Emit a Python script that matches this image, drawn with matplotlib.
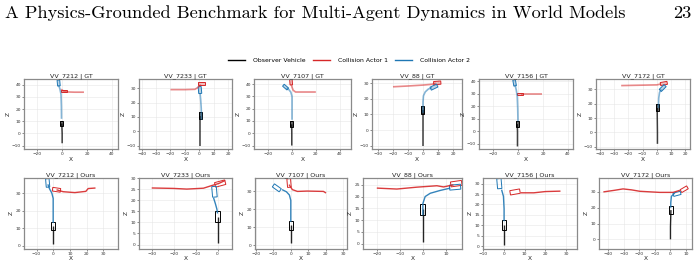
import matplotlib
matplotlib.use("Agg")
import matplotlib.pyplot as plt
import numpy as np
from matplotlib.patches import Polygon
from matplotlib.lines import Line2D
from matplotlib.ticker import MultipleLocator

# ---------------- data ----------------
titles = ["VV_7212 | GT", "VV_7233 | GT", "VV_7107 | GT", "VV_88 | GT", "VV_7156 | GT", "VV_7172 | GT",
          "VV_7212 | Ours", "VV_7233 | Ours", "VV_7107 | Ours", "VV_88 | Ours", "VV_7156 | Ours", "VV_7172 | Ours"]
legend_labels = ["Observer Vehicle", "Collision Actor 1", "Collision Actor 2"]

# trajectories (x, z) ; boxes: (cx, cz, heading_deg) for ego, actor1, actor2
p1_ego = [(0.0, -8.0), (0.0, 0.0), (-0.3, 8.2)]
p1_act1 = [(17.5, 33.8), (10.0, 33.8), (4.0, 34.0), (1.0, 34.8), (-0.8, 36.2)]
p1_act2 = [(-0.5, 12.0), (-0.6, 22.0), (-0.9, 32.0), (-1.8, 36.5), (-2.8, 39.5)]
p1_boxes = [(-0.3, 8.2, 90), (1.8, 34.6, 180), (-2.8, 41.3, 95)]

p2_ego = [(0.8, -10.0), (0.8, 0.0), (0.8, 10.8)]
p2_act1 = [(-20.0, 29.0), (-10.0, 29.0), (-3.0, 29.2), (-0.8, 30.6), (1.0, 32.5)]
p2_act2 = [(1.6, 8.0), (1.4, 16.0), (1.0, 22.0), (0.6, 26.5)]
p2_boxes = [(0.8, 10.8, 90), (1.4, 33.6, 0), (0.5, 28.7, 95)]

p3_ego = [(-0.2, -10.0), (-0.2, 0.0), (-0.3, 7.3)]
p3_act1 = [(20.0, 33.6), (10.0, 33.6), (3.0, 33.6), (1.0, 35.0), (0.0, 37.5), (-0.5, 39.5)]
p3_act2 = [(0.0, 11.0), (0.0, 22.0), (0.0, 30.0), (-1.0, 33.5), (-3.0, 36.0), (-4.5, 37.0)]
p3_boxes = [(-0.3, 7.3, 90), (-0.8, 41.8, 95), (-5.4, 37.6, 140)]

p4_ego = [(-0.2, -10.0), (-0.2, 0.0), (-0.2, 12.9)]
p4_act1 = [(-20.0, 27.8), (-10.0, 28.3), (0.0, 28.9), (6.0, 29.4), (8.5, 30.0)]
p4_act2 = [(0.0, 11.0), (0.0, 18.0), (0.3, 22.0), (1.5, 24.5), (3.5, 26.3), (6.0, 27.3)]
p4_boxes = [(-0.2, 12.9, 90), (9.5, 30.3, 5), (7.3, 27.6, 25)]

p5_ego = [(-0.6, -12.0), (-0.6, 0.0), (-0.8, 5.8)]
p5_act1 = [(19.5, 29.8), (12.0, 29.8), (5.0, 29.8), (2.5, 29.8)]
p5_act2 = [(-0.2, 8.0), (-0.4, 18.0), (-0.8, 28.0), (-1.6, 33.0), (-2.6, 37.0)]
p5_boxes = [(-0.8, 5.8, 90), (1.5, 29.8, 180), (-2.9, 38.5, 100)]

p6_ego = [(0.5, -8.0), (0.5, 0.0), (0.3, 17.1)]
p6_act1 = [(-25.0, 32.7), (-10.0, 33.0), (0.0, 33.2), (3.0, 33.8)]
p6_act2 = [(1.2, 17.0), (1.4, 24.0), (2.0, 28.0), (3.2, 30.0)]
p6_boxes = [(0.3, 17.1, 90), (5.0, 34.2, 10), (4.2, 31.0, 45)]

p7_ego = [(0.0, 1.0), (0.0, 6.0), (0.0, 11.4)]
p7_act1 = [(25.4, 32.9), (21.0, 32.6), (19.6, 31.0), (13.0, 30.3), (6.0, 30.8), (2.0, 31.9)]
p7_act2 = [(0.0, 13.0), (0.0, 20.0), (0.0, 27.0), (-0.8, 30.0), (-2.2, 32.5), (-3.2, 35.0)]
p7_boxes = [(0.0, 11.4, 90), (2.0, 31.9, -8), (-3.3, 35.8, 95)]

p8_ego = [(0.0, 0.5), (0.0, 6.0), (0.0, 12.5)]
p8_act1 = [(-30.0, 25.5), (-20.0, 25.3), (-14.0, 25.0), (-6.4, 25.4), (-2.6, 26.6), (0.5, 27.5), (3.5, 28.9)]
p8_act2 = [(0.0, 14.0), (-0.3, 16.0), (-1.0, 18.5), (-1.8, 21.0)]
p8_boxes = [(0.0, 12.5, 90), (1.2, 27.5, 15), (-1.4, 23.8, 95)]

p9_ego = [(0.0, 1.0), (0.0, 6.0), (0.0, 11.0)]
p9_act1 = [(20.2, 29.1), (18.7, 30.0), (9.4, 30.2), (3.8, 30.0), (0.9, 31.0), (-1.0, 33.8)]
p9_act2 = [(0.0, 13.0), (0.0, 20.0), (0.0, 25.0), (-0.8, 28.0), (-2.5, 29.8), (-5.0, 31.0)]
p9_boxes = [(0.0, 11.0, 90), (-1.0, 34.7, 95), (-8.0, 32.0, 145)]

p10_ego = [(0.0, 0.5), (0.0, 7.0), (0.0, 14.5)]
p10_act1 = [(-20.0, 23.6), (-11.3, 23.2), (-2.6, 24.0), (6.1, 24.6), (9.0, 24.1), (13.3, 25.0)]
p10_act2 = [(0.0, 12.0), (0.0, 17.0), (1.0, 20.0), (3.2, 21.4), (7.5, 22.6), (11.9, 23.6)]
p10_boxes = [(0.0, 14.5, 90), (14.5, 25.5, 8), (14.0, 24.0, 5)]

p11_ego = [(0.0, 0.5), (0.0, 5.0), (0.0, 10.3)]
p11_act1 = [(27.3, 26.4), (20.0, 26.2), (14.4, 25.6), (8.0, 25.6)]
p11_act2 = [(0.0, 12.0), (0.0, 18.0), (-0.3, 23.9), (-1.2, 27.1)]
p11_boxes = [(0.0, 10.3, 90), (5.3, 26.0, 10), (-2.3, 30.0, 95)]

p12_ego = [(0.0, 0.0), (0.0, 8.0), (0.3, 18.5)]
p12_act1 = [(-43.0, 30.0), (-36.0, 31.0), (-30.4, 31.9), (-25.0, 31.3), (-19.7, 30.4), (-6.9, 29.7), (1.7, 29.7), (6.0, 31.0)]
p12_act2 = [(0.2, 20.0), (0.2, 23.1), (0.6, 27.2), (2.8, 29.4)]
p12_boxes = [(0.3, 18.5, 90), (8.8, 31.7, 30), (4.2, 28.8, 15)]

panels = [
    (p1_ego, p1_act1, p1_act2, p1_boxes), (p2_ego, p2_act1, p2_act2, p2_boxes),
    (p3_ego, p3_act1, p3_act2, p3_boxes), (p4_ego, p4_act1, p4_act2, p4_boxes),
    (p5_ego, p5_act1, p5_act2, p5_boxes), (p6_ego, p6_act1, p6_act2, p6_boxes),
    (p7_ego, p7_act1, p7_act2, p7_boxes), (p8_ego, p8_act1, p8_act2, p8_boxes),
    (p9_ego, p9_act1, p9_act2, p9_boxes), (p10_ego, p10_act1, p10_act2, p10_boxes),
    (p11_ego, p11_act1, p11_act2, p11_boxes), (p12_ego, p12_act1, p12_act2, p12_boxes),
]

# axis ranges and tick steps
xlims = [(-30.6, 44.8), (-41.9, 22.8), (-31.9, 49.5), (-34, 26), (-31.5, 44), (-42.7, 23.4),
         (-17.5, 38.9), (-35.8, 6.6), (-20.5, 32.2), (-26, 17), (-10.2, 35.3), (-45.8, 13.8)]
ylims = [(-12.7, 44.6), (-12.4, 36.4), (-12.8, 44.2), (-12.2, 32.8), (-14, 41.6), (-11.6, 37.3),
         (-1.5, 38.6), (-1.8, 30), (-1.9, 37.5), (-2.1, 27.9), (-1.1, 32.7), (-5.8, 38.8)]
xsteps = [20, 10, 20, 10, 20, 10, 10, 10, 10, 10, 10, 10]
ysteps = [10, 10, 10, 10, 10, 10, 10, 5, 10, 5, 5, 10]

# ---------------- style / layout ----------------
W, H = 700, 269
EGO_C, A1_C, A2_C = "black", "#d62728", "#1f77b4"
colors = [EGO_C, A1_C, A2_C]
box_px = [(24, 118), (139, 232), (254, 351), (372, 462), (479, 573), (596, 690),
          (24, 118), (139, 232), (255, 347), (363, 462), (483, 577), (599, 692)]
row_px = [(79, 149), (178, 248.5)]
VEH_L, VEH_W = 4.8, 2.1

fig = plt.figure(figsize=(W / 100, H / 100), dpi=100)

fig.text(5 / W, 1 - 13 / H, "A Physics-Grounded Benchmark for Multi-Agent Dynamics in World Models",
         family=["cmr10", "DejaVu Serif"], fontsize=13.2, va="center", ha="left")
fig.text(691 / W, 1 - 13 / H, "23", family=["cmr10", "DejaVu Serif"], fontsize=13.2,
         va="center", ha="right")


def vehicle_poly(cx, cz, hdg):
    t = np.deg2rad(hdg)
    d = np.array([np.cos(t), np.sin(t)])
    n = np.array([-np.sin(t), np.cos(t)])
    c = np.array([cx, cz])
    pts = [c + d * VEH_L / 2 + n * VEH_W / 2, c - d * VEH_L / 2 + n * VEH_W / 2,
           c - d * VEH_L / 2 - n * VEH_W / 2, c + d * VEH_L / 2 - n * VEH_W / 2]
    return np.array(pts)


for i, (ego, a1, a2, boxes) in enumerate(panels):
    gt = i < 6
    x0, x1 = box_px[i]
    y0, y1 = row_px[0] if gt else row_px[1]
    ax = fig.add_axes([x0 / W, 1 - y1 / H, (x1 - x0) / W, (y1 - y0) / H])
    ax.set_xlim(*xlims[i])
    ax.set_ylim(*ylims[i])
    ax.grid(True, color="#e6e6e6", lw=0.4)
    ax.set_axisbelow(True)
    for s in ax.spines.values():
        s.set_color("#8a8a8a")
        s.set_linewidth(0.9)
    ax.xaxis.set_major_locator(MultipleLocator(xsteps[i]))
    ax.yaxis.set_major_locator(MultipleLocator(ysteps[i]))
    ax.tick_params(labelsize=3.2, length=1.2, width=0.4, pad=1, colors="#333333")
    ax.set_title(titles[i], fontsize=4.6, pad=1.5, color="#222222")
    ax.set_xlabel("X", fontsize=4.2, labelpad=0.5, color="#222222")
    ax.set_ylabel("Z", fontsize=4.2, labelpad=1.0, color="#222222")

    for k, (path, col) in enumerate(zip([ego, a1, a2], colors)):
        arr = np.array(path)
        if gt:
            alpha = 0.75 if k == 0 else 0.55
            lw = 1.1 if k == 0 else 1.2
        else:
            alpha = 0.85 if k == 0 else 0.9
            lw = 1.0
        ax.plot(arr[:, 0], arr[:, 1], color=col, lw=lw, alpha=alpha, solid_capstyle="butt")
        cx, cz, hdg = boxes[k]
        poly = vehicle_poly(cx, cz, hdg)
        if gt:
            fa = 0.6 if k == 0 else 0.3
            ax.add_patch(Polygon(poly, closed=True, facecolor=col, alpha=fa, lw=0))
            ax.add_patch(Polygon(poly, closed=True, facecolor="none", edgecolor=col, lw=0.7))
        else:
            ax.add_patch(Polygon(poly, closed=True, facecolor="none", edgecolor=col, lw=0.7))

handles = [Line2D([0], [0], color=c, lw=1.0) for c in colors]
fig.legend(handles, legend_labels, loc="center", bbox_to_anchor=(349 / W, 1 - 60 / H), ncol=3,
           frameon=False, fontsize=4.4, handlelength=2.8, columnspacing=1.2, handletextpad=1.3)

fig.savefig("out.png", dpi=100)
